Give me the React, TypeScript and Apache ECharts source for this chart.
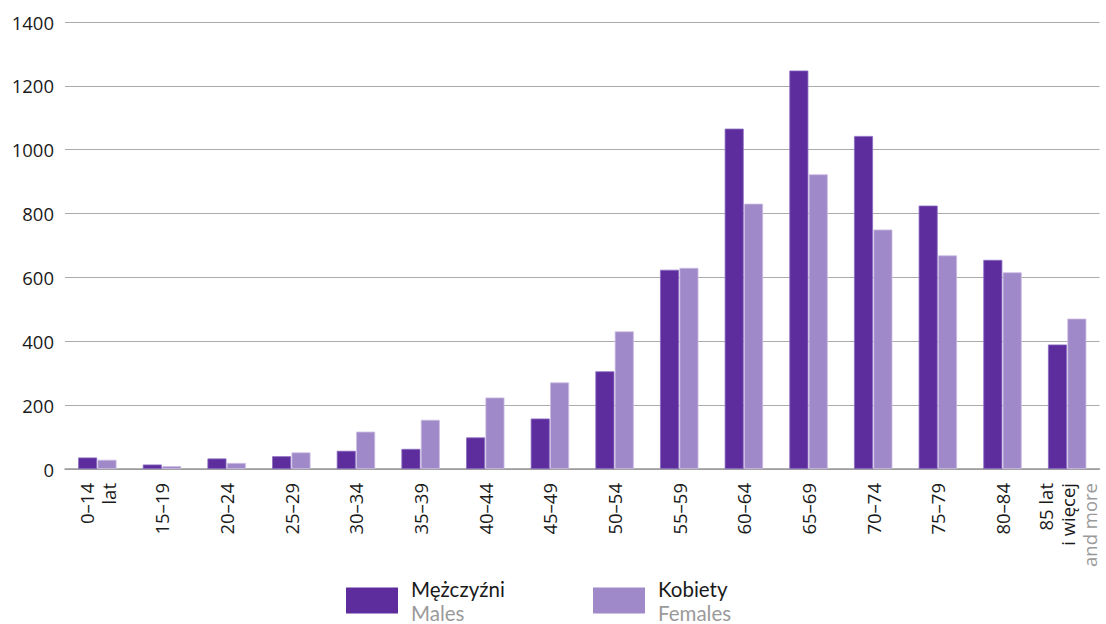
import React, { useEffect, useRef } from "react";
import * as echarts from "echarts";

const categories = [
  "0–14\nlat",
  "15–19",
  "20–24",
  "25–29",
  "30–34",
  "35–39",
  "40–44",
  "45–49",
  "50–54",
  "55–59",
  "60–64",
  "65–69",
  "70–74",
  "75–79",
  "80–84",
  "85 lat\ni więcej\nand more",
];

const males = [36, 14, 33, 40, 57, 63, 99, 158, 306, 624, 1066, 1248, 1043, 825, 655, 390];
const females = [29, 9, 19, 52, 117, 154, 224, 271, 431, 630, 831, 923, 750, 669, 616, 471];

const yTicks = { min: 0, max: 1400, interval: 200 };

const seriesNames = ["Mężczyźni", "Kobiety"];
const seriesEnglish = ["Males", "Females"];
const colors = ["#5d2d9d", "#a089c8"];
const borderColors = ["#8a6cc0", "#cbbbe3"];

const FONT = "'Open Sans', 'Noto Sans', sans-serif";
const LEGEND_FONT = "Lato, 'Open Sans', sans-serif";

export default function App() {
  const ref = useRef<HTMLDivElement>(null);

  useEffect(() => {
    document.body.style.margin = "0";
    if (!ref.current) return;
    const chart = echarts.init(ref.current, undefined, { renderer: "svg" });

    const legendFor = (i: number, left: number) => ({
      show: true,
      left,
      top: 578,
      padding: 0,
      orient: "horizontal",
      icon: "rect",
      itemWidth: 52,
      itemHeight: 26,
      selectedMode: false,
      itemStyle: { borderWidth: 0 },
      data: [seriesNames[i]],
      formatter: (name: string) => {
        const idx = seriesNames.indexOf(name);
        return `{a|${name}}\n{b|${seriesEnglish[idx]}}`;
      },
      textStyle: {
        padding: [0, 0, 0, 8],
        rich: {
          a: { fontFamily: LEGEND_FONT, fontSize: 20.5, color: "#1a1a1a", lineHeight: 24 },
          b: { fontFamily: LEGEND_FONT, fontSize: 20.5, color: "#9a9a9a", lineHeight: 24 },
        },
      },
    });

    chart.setOption({
      animation: false,
      backgroundColor: "#ffffff",
      textStyle: { fontFamily: FONT },
      grid: { left: 65, right: 6.5, top: 22, bottom: 155, containLabel: false },
      legend: [legendFor(0, 346), legendFor(1, 593)],
      xAxis: {
        type: "category",
        data: categories,
        axisTick: { show: false },
        axisLine: { show: true, lineStyle: { color: "#999999", width: 1.5 } },
        axisLabel: {
          rotate: 90,
          interval: 0,
          margin: 14,
          fontFamily: FONT,
          fontSize: 18.5,
          color: "#1a1a1a",
          lineHeight: 22,
          formatter: (v: string) => v.replace("and more", "{g|and more}"),
          rich: {
            g: { fontFamily: FONT, fontSize: 18.5, color: "#9a9a9a", lineHeight: 22 },
          },
        },
      },
      yAxis: {
        type: "value",
        min: yTicks.min,
        max: yTicks.max,
        interval: yTicks.interval,
        axisLine: { show: false },
        axisTick: { show: false },
        splitLine: { show: true, lineStyle: { color: "#ababab", width: 1 } },
        axisLabel: {
          margin: 11,
          fontFamily: FONT,
          fontSize: 18.5,
          color: "#1a1a1a",
          formatter: (v: number) => String(v),
        },
      },
      series: [
        {
          name: seriesNames[0],
          type: "bar",
          data: males,
          barWidth: 19,
          barGap: "2%",
          itemStyle: { color: colors[0], borderColor: borderColors[0], borderWidth: 0.8 },
        },
        {
          name: seriesNames[1],
          type: "bar",
          data: females,
          barWidth: 19,
          barGap: "2%",
          itemStyle: { color: colors[1], borderColor: borderColors[1], borderWidth: 0.8 },
        },
      ],
    });

    return () => chart.dispose();
  }, []);

  return <div ref={ref} style={{ width: 1106, height: 624 }} />;
}
